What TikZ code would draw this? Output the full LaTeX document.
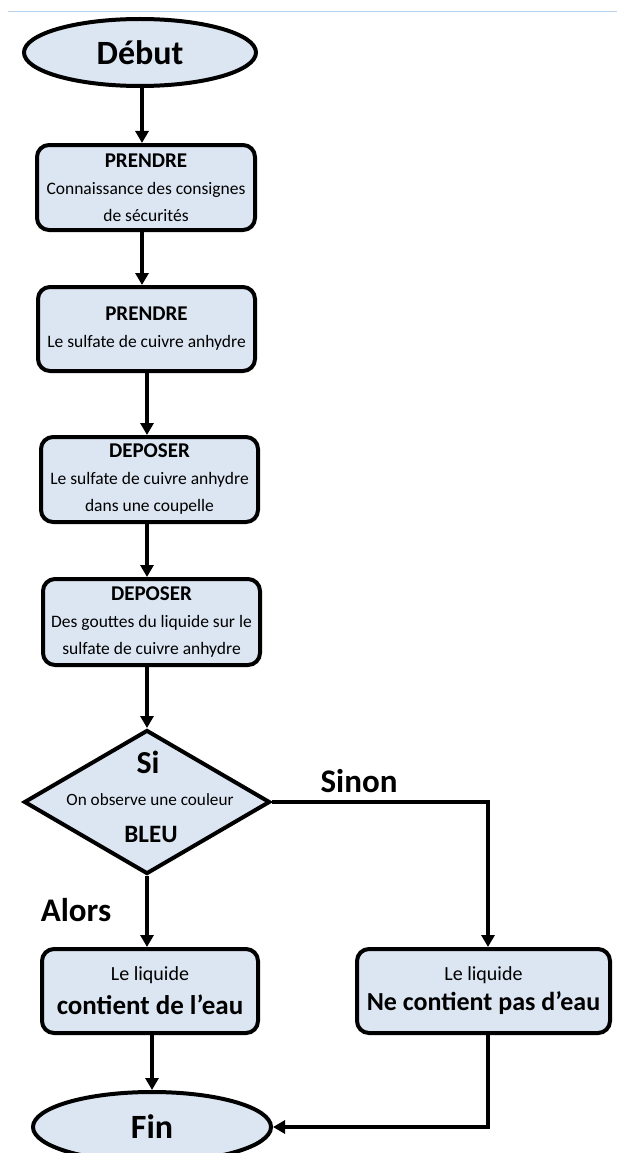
\documentclass[tikz,border=0pt]{standalone}
\usepackage{fontspec}
\setmainfont{Carlito}
\usetikzlibrary{shapes.geometric,arrows.meta}
\definecolor{boxfill}{RGB}{220,230,242}
\definecolor{toplinecol}{RGB}{185,212,240}
\newcommand\hdrfont{\bfseries\fontsize{21}{27}\selectfont}
\begin{document}
\begin{tikzpicture}[x=1pt,y=-1pt,
  proc/.style={draw=black,line width=4pt,fill=boxfill,rounded corners=12pt,align=center,inner sep=0pt,font=\fontsize{17.5}{27}\selectfont},
  term/.style={ellipse,draw=black,line width=4pt,fill=boxfill,inner sep=0pt,font=\bfseries\fontsize{34}{40}\selectfont},
  arr/.style={line width=3.2pt,-{Triangle[length=12pt,width=13pt]}},
  lbl/.style={font=\bfseries\fontsize{33}{38}\selectfont,inner sep=0pt}]
\useasboundingbox (0,0) rectangle (617,1153);
\draw[toplinecol,line width=1pt] (8,12) -- (617,12);
% terminals
\node[term,minimum width=232pt,minimum height=67pt] (debut) at (140,52.5) {Début};
\node[term,minimum width=238pt,minimum height=70pt] (fin) at (152,1127) {Fin};
% process boxes
\node[proc,minimum width=218pt,minimum height=85pt] (b1) at (146,187.5)
  {{\hdrfont PRENDRE}\\Connaissance des consignes\\de sécurités};
\node[proc,minimum width=217pt,minimum height=84pt] (b2) at (146.5,329)
  {{\hdrfont PRENDRE}\\Le sulfate de cuivre anhydre};
\node[proc,minimum width=217pt,minimum height=85pt] (b3) at (149.5,479.5)
  {{\hdrfont DEPOSER}\\Le sulfate de cuivre anhydre\\dans une coupelle};
\node[proc,minimum width=217pt,minimum height=86pt] (b4) at (151.5,622)
  {{\hdrfont DEPOSER}\\Des gouttes du liquide sur le\\sulfate de cuivre anhydre};
% decision
\node[diamond,draw=black,line width=4pt,fill=boxfill,minimum width=246pt,minimum height=144pt,inner sep=0pt] (dec) at (147,802) {};
\node[font=\bfseries\fontsize{32}{38}\selectfont,inner sep=0pt] (si) at (148,762) {Si};
\node[font=\fontsize{17.2}{20}\selectfont,inner sep=0pt] (obs) at (150,800) {On observe une couleur};
\node[font=\bfseries\fontsize{25}{30}\selectfont,inner sep=0pt] (bleu) at (151,834) {BLEU};
% result boxes
\node[proc,minimum width=216pt,minimum height=84pt,font=\fontsize{20}{34}\selectfont] (lb) at (150,991)
  {Le liquide\\{\bfseries\fontsize{27}{34}\selectfont contient de l’eau}};
\node[proc,minimum width=253pt,minimum height=84pt,font=\fontsize{20}{30}\selectfont] (rb) at (483.5,991)
  {Le liquide\\{\bfseries\fontsize{26}{30}\selectfont Ne contient pas d’eau}};
% labels
\node[lbl] (sinon) at (359,781) {Sinon};
\node[lbl] (alors) at (76,910) {Alors};
% helper coordinates
\coordinate (xa) at (142,0);
\coordinate (xb) at (147,0);
\coordinate (xr) at (488,0);
% connectors
\draw[arr] (debut.south -| xa) -- (b1.north -| xa);
\draw[arr] (b1.south -| xa) -- (b2.north -| xa);
\draw[arr] (b2.south -| xb) -- (b3.north -| xb);
\draw[arr] (b3.south -| xb) -- (b4.north -| xb);
\draw[arr] (b4.south -| dec.north) -- (dec.north);
\draw[arr] (dec.south) -- (dec.south |- lb.north);
\draw[arr] (lb.south -| fin.north) -- (fin.north);
\draw[arr] (dec.east) -- (dec.east -| xr) -- (xr |- rb.north);
\draw[arr] (rb.south -| xr) -- (xr |- fin.east) -- (fin.east);
\end{tikzpicture}
\end{document}
